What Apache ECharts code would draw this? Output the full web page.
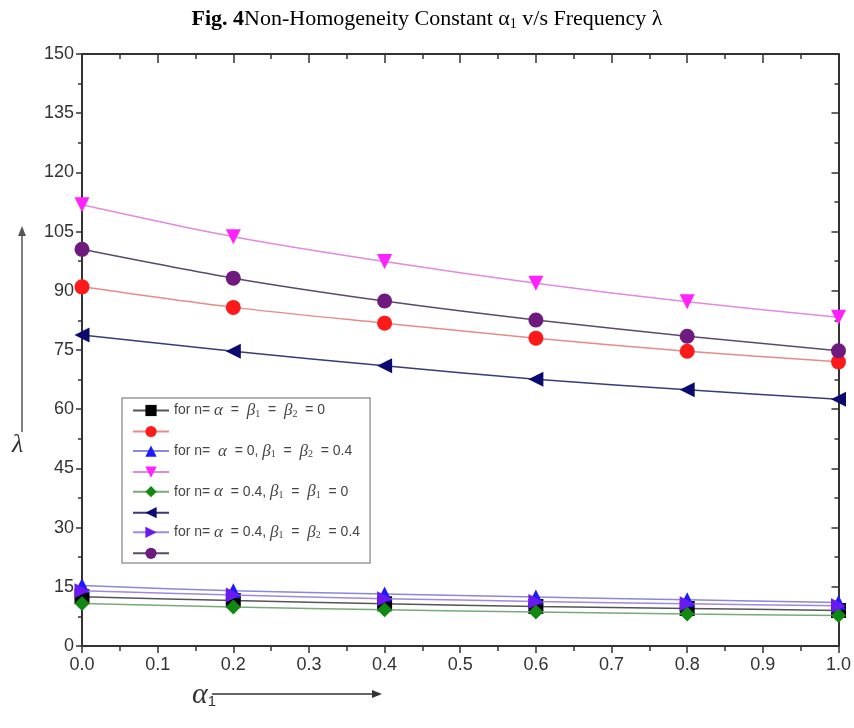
<!DOCTYPE html>
<html>
<head>
<meta charset="utf-8">
<script src="https://cdn.jsdelivr.net/npm/echarts@6/dist/echarts.min.js"></script>
<style>
  html, body { margin: 0; padding: 0; background: #fff; }
  #main { width: 854px; height: 728px; }
</style>
</head>
<body>
<div id="main"></div>
<script>
// 横轴 α1 取值
var alphaValues = [0.0, 0.2, 0.4, 0.6, 0.8, 1.0];
// 各曲线数据 (λ)
var blackSq   = [12.5, 11.5, 10.7, 10.0, 9.5, 9.0];
var redCircle = [91.0, 85.8, 81.8, 78.0, 74.7, 72.0];
var blueUp    = [15.3, 14.0, 13.2, 12.4, 11.7, 11.0];
var magDown   = [111.8, 103.7, 97.4, 91.9, 87.2, 83.3];
var greenDia  = [10.8, 9.9, 9.2, 8.6, 8.1, 7.7];
var navyLeft  = [78.8, 74.7, 71.0, 67.6, 64.9, 62.5];
var violetRt  = [14.0, 12.9, 12.0, 11.3, 10.7, 10.2];
var purpleCir = [100.5, 93.2, 87.4, 82.6, 78.5, 74.8];
// 坐标刻度
var xTicks = [0.0, 0.1, 0.2, 0.3, 0.4, 0.5, 0.6, 0.7, 0.8, 0.9, 1.0];
var yTicks = [0, 15, 30, 45, 60, 75, 90, 105, 120, 135, 150];
// 图例文字
var legendText = {
    s1: 'for n= {i|α}  =  {i|β}{s|1}  =  {i|β}{s|2}  = 0',
    s2: '',
    s3: 'for n=  {i|α}  = 0, {i|β}{s|1}  =  {i|β}{s|2}  = 0.4',
    s4: '',
    s5: 'for n= {i|α}  = 0.4, {i|β}{s|1}  =  {i|β}{s|1}  = 0',
    s6: '',
    s7: 'for n= {i|α}  = 0.4, {i|β}{s|1}  =  {i|β}{s|2}  = 0.4',
    s8: ''
};

var chart = echarts.init(document.getElementById('main'));

function pairs(ys) {
    return alphaValues.map(function (x, i) { return [x, ys[i]]; });
}

function mk(name, ys, color, lineColor, symbol, rotate, z) {
    return {
        name: name,
        type: 'line',
        data: pairs(ys),
        smooth: 0.3,
        symbol: symbol,
        symbolSize: 15,
        symbolRotate: rotate,
        z: z,
        itemStyle: { color: color },
        lineStyle: { color: lineColor, width: 1.5 }
    };
}

var axisLine = { show: true, onZero: false, lineStyle: { color: '#333', width: 2 } };
var tickStyle = { color: '#333', width: 1.5 };

var option = {
    title: {
        text: '{b|Fig. 4}Non-Homogeneity Constant α{s|1} v/s Frequency λ',
        left: 'center',
        top: 2,
        textStyle: {
            fontFamily: 'Liberation Serif',
            fontSize: 22,
            fontWeight: 'normal',
            color: '#000',
            rich: {
                b: { fontFamily: 'Liberation Serif', fontSize: 22, fontWeight: 'bold', color: '#000' },
                s: { fontFamily: 'Liberation Serif', fontSize: 14, color: '#000', padding: [10, 0, 0, 0] }
            }
        }
    },
    legend: {
        orient: 'vertical',
        left: 122,
        top: 398,
        padding: [4, 10, 4, 10],
        itemGap: 5.5,
        itemWidth: 36,
        itemHeight: 14,
        borderColor: '#999',
        borderWidth: 1.5,
        backgroundColor: '#fff',
        data: ['s1', 's2', 's3', 's4', 's5', 's6', 's7', 's8'],
        formatter: function (name) { return legendText[name]; },
        textStyle: {
            fontFamily: 'Liberation Sans',
            fontSize: 14,
            color: '#444',
            rich: {
                i: { fontFamily: 'Liberation Serif', fontStyle: 'italic', fontSize: 17, color: '#444' },
                s: { fontFamily: 'Liberation Serif', fontSize: 10, color: '#444', padding: [7, 0, 0, 0] }
            }
        }
    },
    grid: { left: 82, right: 14, top: 54, bottom: 82 },
    xAxis: [{
        type: 'value',
        min: 0, max: 1, interval: 0.1,
        axisLine: axisLine,
        axisTick: { show: true, inside: false, length: 7, lineStyle: tickStyle },
        minorTick: { show: true, splitNumber: 2, length: 5, lineStyle: tickStyle },
        splitLine: { show: false },
        axisLabel: {
            fontFamily: 'Liberation Sans', fontSize: 18, color: '#333', margin: 10,
            formatter: function (v) { return v.toFixed(1); }
        }
    }, {
        type: 'value', position: 'top',
        min: 0, max: 1, interval: 0.1,
        axisLine: axisLine,
        axisTick: { show: true, inside: true, length: 9, lineStyle: tickStyle },
        minorTick: { show: true, splitNumber: 2, length: 5, lineStyle: tickStyle },
        splitLine: { show: false },
        axisLabel: { show: false }
    }],
    yAxis: [{
        type: 'value',
        min: 0, max: 150, interval: 15,
        axisLine: axisLine,
        axisTick: { show: true, inside: false, length: 6, lineStyle: tickStyle },
        minorTick: { show: true, splitNumber: 2, length: 4, lineStyle: tickStyle },
        splitLine: { show: false },
        axisLabel: { fontFamily: 'Liberation Sans', fontSize: 18, color: '#333', margin: 8 }
    }, {
        type: 'value', position: 'right',
        min: 0, max: 150, interval: 15,
        axisLine: axisLine,
        axisTick: { show: true, inside: true, length: 7, lineStyle: tickStyle },
        minorTick: { show: true, splitNumber: 2, length: 4, lineStyle: tickStyle },
        splitLine: { show: false },
        axisLabel: { show: false }
    }],
    graphic: [
        // λ 轴说明和箭头
        { type: 'line', shape: { x1: 22, y1: 432, x2: 22, y2: 232 }, style: { stroke: '#555', lineWidth: 1.5 } },
        { type: 'polygon', shape: { points: [[22, 226], [18, 236], [26, 236]] }, style: { fill: '#555' } },
        { type: 'text', left: 12, top: 432, style: { text: 'λ', font: 'italic 26px "Liberation Serif"', fill: '#333' } },
        // α1 轴说明和箭头
        { type: 'text', left: 192, top: 680, style: {
            text: '{a|α}{s|1}', fill: '#333',
            rich: {
                a: { font: 'italic 30px "Liberation Serif"', fill: '#333' },
                s: { font: '15px "Liberation Sans"', fill: '#333', padding: [14, 0, 0, 0] }
            }
        } },
        { type: 'line', shape: { x1: 212, y1: 694, x2: 374, y2: 694 }, style: { stroke: '#333', lineWidth: 1.5 } },
        { type: 'polygon', shape: { points: [[382, 694], [372, 690], [372, 698]] }, style: { fill: '#333' } }
    ],
    series: [
        mk('s1', blackSq,   '#000000', '#555555', 'rect', 0, 2),
        mk('s2', redCircle, '#ff1a1a', '#e88a8a', 'circle', 0, 2),
        mk('s3', blueUp,    '#1a1aff', '#8888dd', 'triangle', 0, 3),
        mk('s4', magDown,   '#ff22ff', '#e08ae0', 'triangle', 180, 2),
        mk('s5', greenDia,  '#118811', '#77aa77', 'diamond', 0, 3),
        mk('s6', navyLeft,  '#0a0a70', '#3a3a7a', 'triangle', 90, 2),
        mk('s7', violetRt,  '#6a1aee', '#a088e0', 'triangle', -90, 4),
        mk('s8', purpleCir, '#6e1a7e', '#5a4a6a', 'circle', 0, 2)
    ]
};

chart.setOption(option);
</script>
</body>
</html>
